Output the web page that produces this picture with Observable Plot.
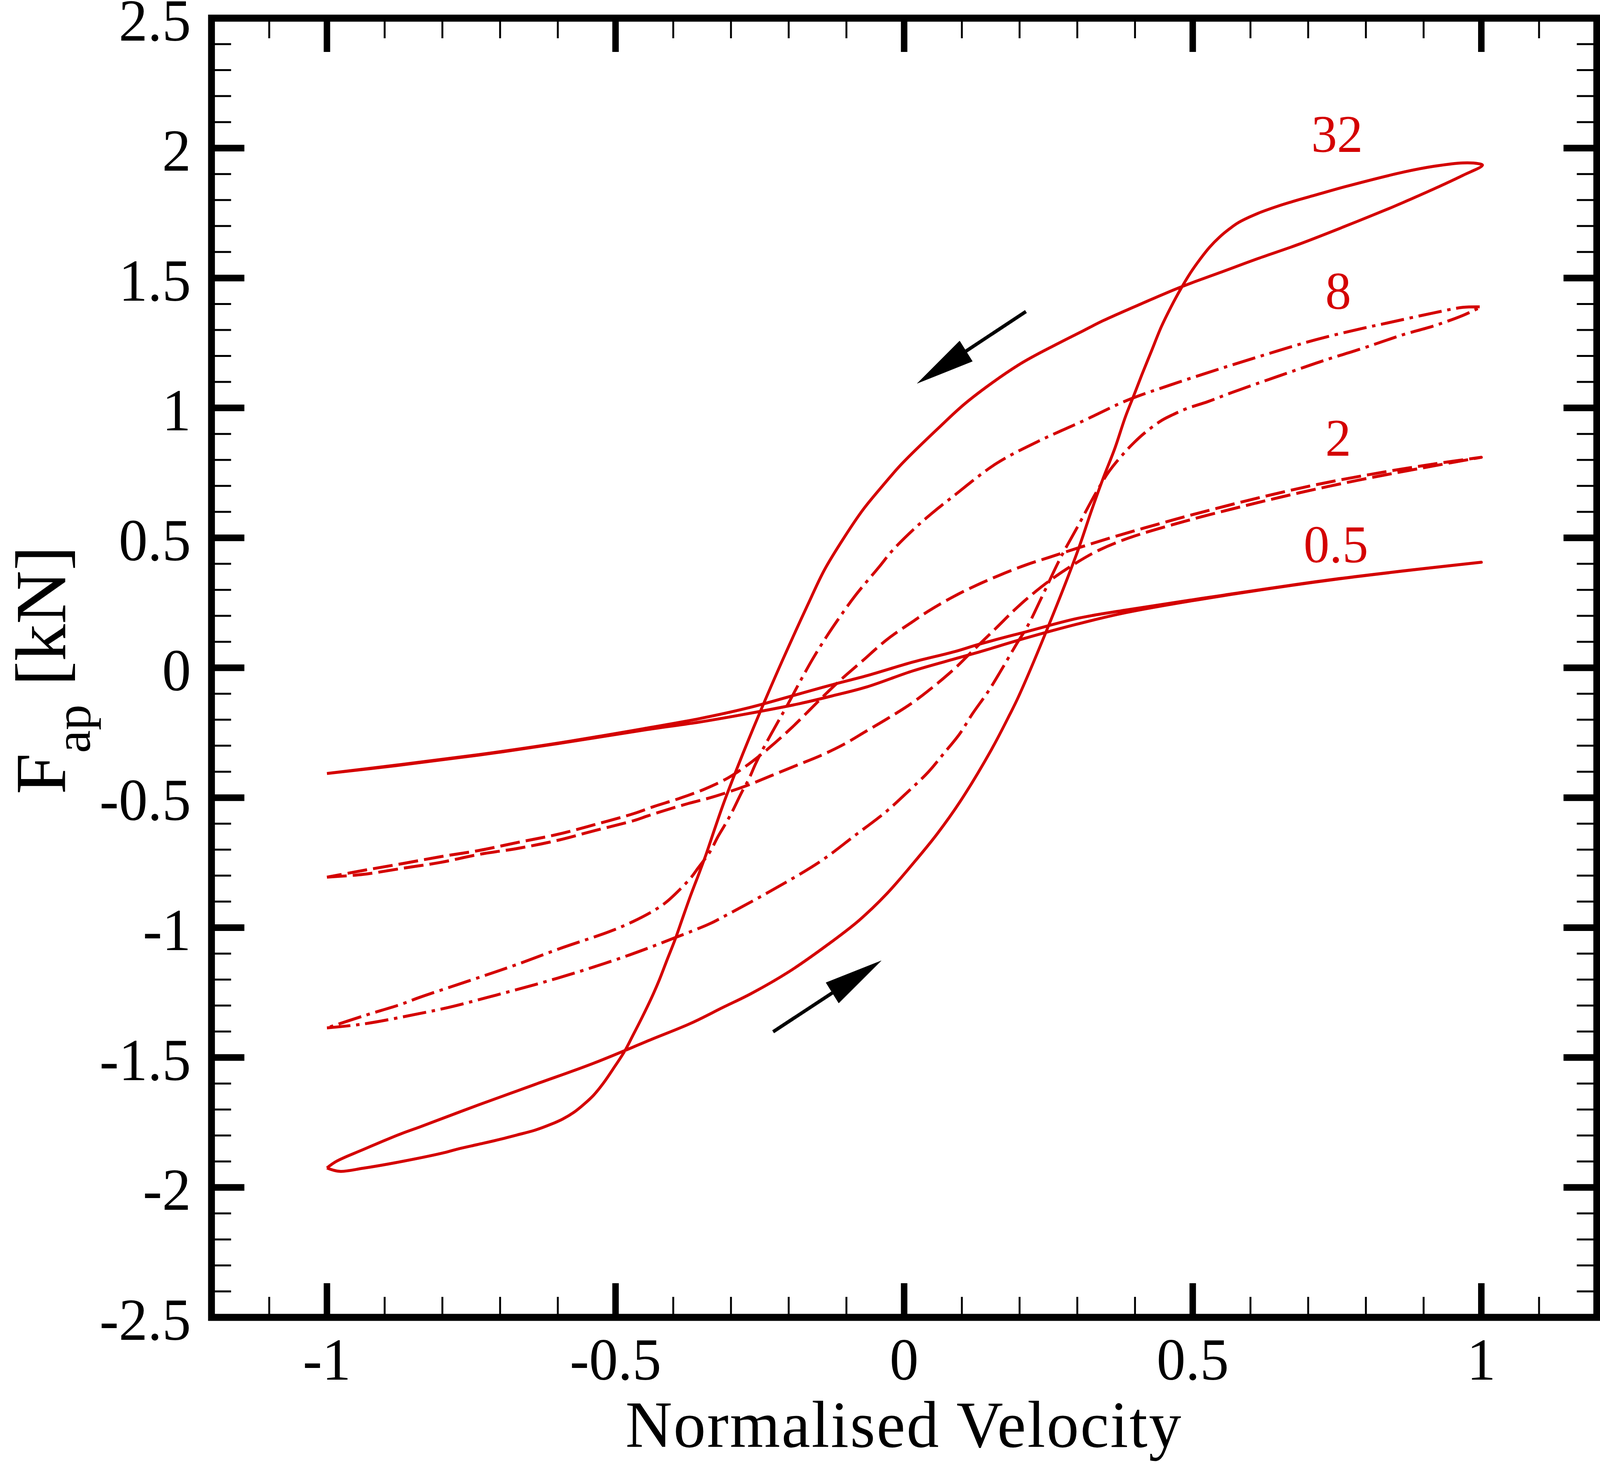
<!DOCTYPE html>
<html>
<head>
<meta charset="utf-8">
<script src="https://cdn.jsdelivr.net/npm/d3@7"></script>
<script src="https://cdn.jsdelivr.net/npm/@observablehq/plot@0.6"></script>
<style>
html, body { margin: 0; padding: 0; background: #ffffff; overflow: hidden; }
#chart { margin: 0; padding: 0; line-height: 0; }
</style>
</head>
<body>
<div id="chart"></div>
<script>
// ---------- data ----------
const seriesNames = ["0.5", "2", "8", "32"];
const seriesStyles = ["solid", "dashed", "dashdot", "solid"];

// 0.5 : increasing branch (v: -1 -> 1) and decreasing branch (v: 1 -> -1)
const f05Inc = [[-1,-0.407],[-0.87,-0.374],[-0.736,-0.336],[-0.6,-0.292],[-0.4454,-0.238],[-0.3573,-0.21],[-0.2692,-0.176],[-0.181,-0.138],[-0.1223,-0.107],[-0.0636,-0.073],[0.0151,-0.012],[0.089,0.035],[0.129,0.06],[0.212,0.115],[0.3,0.168],[0.384,0.212],[0.552,0.277],[0.753,0.342],[1,0.406]];
const f05Dec = [[1,0.406],[0.753,0.343],[0.552,0.279],[0.384,0.222],[0.3,0.19],[0.212,0.139],[0.129,0.09],[0.089,0.063],[0.0151,0.022],[-0.0636,-0.03],[-0.1223,-0.064],[-0.181,-0.1],[-0.2692,-0.154],[-0.3573,-0.197],[-0.4454,-0.232],[-0.6,-0.29],[-0.736,-0.334],[-0.87,-0.372],[-1,-0.407]];

// 2
const f2Inc = [[-1,-0.806],[-0.937,-0.795],[-0.87,-0.772],[-0.803,-0.749],[-0.736,-0.718],[-0.669,-0.695],[-0.602,-0.665],[-0.535,-0.626],[-0.468,-0.588],[-0.4454,-0.571],[-0.416,-0.55],[-0.3749,-0.523],[-0.3309,-0.497],[-0.2721,-0.453],[-0.231,-0.416],[-0.1869,-0.376],[-0.1458,-0.339],[-0.1047,-0.295],[-0.0665,-0.245],[-0.0284,-0.195],[0.0128,-0.137],[0.055,-0.065],[0.089,0.0],[0.12,0.068],[0.159,0.152],[0.19,0.22],[0.214,0.268],[0.25,0.332],[0.297,0.402],[0.337,0.452],[0.39,0.5],[0.485,0.563],[0.586,0.621],[0.686,0.674],[0.787,0.722],[0.888,0.765],[1,0.81]];
const f2Dec = [[1,0.81],[0.92,0.785],[0.82,0.749],[0.717,0.706],[0.616,0.655],[0.518,0.6],[0.445,0.556],[0.371,0.509],[0.304,0.463],[0.25,0.424],[0.2125,0.397],[0.163,0.354],[0.119,0.311],[0.079,0.266],[0.042,0.218],[0.0151,0.178],[-0.0284,0.111],[-0.0724,0.026],[-0.1107,-0.048],[-0.1401,-0.11],[-0.1635,-0.162],[-0.1959,-0.233],[-0.2311,-0.303],[-0.2663,-0.366],[-0.3044,-0.423],[-0.3456,-0.467],[-0.3896,-0.503],[-0.4336,-0.534],[-0.468,-0.561],[-0.535,-0.603],[-0.602,-0.642],[-0.669,-0.672],[-0.736,-0.703],[-0.803,-0.727],[-0.87,-0.754],[-0.937,-0.78],[-1,-0.806]];

// 8
const f8Inc = [[-1,-1.386],[-0.937,-1.371],[-0.8401,-1.331],[-0.783,-1.304],[-0.7226,-1.269],[-0.6387,-1.219],[-0.5582,-1.166],[-0.4743,-1.104],[-0.397,-1.039],[-0.3366,-0.985],[-0.3138,-0.959],[-0.232,-0.86],[-0.145,-0.745],[-0.085,-0.645],[-0.033,-0.557],[0.008,-0.474],[0.042,-0.401],[0.069,-0.329],[0.096,-0.255],[0.119,-0.175],[0.146,-0.09],[0.168,-0.01],[0.193,0.085],[0.215,0.165],[0.237,0.265],[0.27,0.419],[0.304,0.557],[0.33,0.664],[0.3548,0.755],[0.3817,0.828],[0.3985,0.867],[0.4152,0.901],[0.4455,0.951],[0.4656,0.974],[0.4891,0.997],[0.526,1.024],[0.5663,1.058],[0.63,1.108],[0.6703,1.139],[0.7307,1.185],[0.7912,1.227],[0.8375,1.262],[0.866,1.283],[0.918,1.316],[0.968,1.356],[1,1.389]];
const f8Dec = [[1,1.389],[0.968,1.387],[0.918,1.366],[0.8375,1.327],[0.7978,1.308],[0.714,1.263],[0.6301,1.208],[0.5462,1.15],[0.4622,1.089],[0.385,1.028],[0.3112,0.951],[0.231,0.87],[0.159,0.785],[0.084,0.658],[0.049,0.596],[0.02,0.54],[-0.02,0.452],[-0.043,0.389],[-0.0842,0.279],[-0.1106,0.198],[-0.1341,0.121],[-0.1576,0.037],[-0.1781,-0.044],[-0.2016,-0.141],[-0.2193,-0.211],[-0.2427,-0.305],[-0.2574,-0.37],[-0.2692,-0.429],[-0.2809,-0.477],[-0.2986,-0.557],[-0.3103,-0.604],[-0.3221,-0.648],[-0.3366,-0.709],[-0.3568,-0.77],[-0.3702,-0.81],[-0.3971,-0.872],[-0.4139,-0.905],[-0.434,-0.935],[-0.4709,-0.978],[-0.5113,-1.016],[-0.5918,-1.077],[-0.6723,-1.143],[-0.7528,-1.204],[-0.8401,-1.269],[-0.87,-1.294],[-0.937,-1.34],[-1,-1.386]];

// 32
const f32Inc = [[-1,-1.925],[-0.984,-1.9],[-0.937,-1.854],[-0.87,-1.792],[-0.8401,-1.768],[-0.7394,-1.684],[-0.6387,-1.603],[-0.538,-1.522],[-0.4374,-1.43],[-0.3702,-1.369],[-0.3138,-1.307],[-0.266,-1.255],[-0.199,-1.169],[-0.132,-1.065],[-0.078,-0.972],[-0.031,-0.872],[0.016,-0.752],[0.057,-0.64],[0.097,-0.515],[0.151,-0.316],[0.183,-0.18],[0.198,-0.112],[0.244,0.128],[0.3,0.445],[0.3246,0.605],[0.3448,0.729],[0.365,0.844],[0.3834,0.966],[0.3985,1.051],[0.4119,1.128],[0.4287,1.22],[0.4455,1.312],[0.4622,1.388],[0.479,1.457],[0.4958,1.519],[0.5126,1.572],[0.5294,1.619],[0.5462,1.657],[0.563,1.688],[0.5797,1.714],[0.6132,1.749],[0.6468,1.776],[0.6804,1.799],[0.714,1.82],[0.765,1.852],[0.866,1.908],[0.918,1.93],[0.968,1.943],[0.995,1.94]];
const f32Dec = [[1.002,1.934],[0.968,1.895],[0.918,1.843],[0.866,1.792],[0.8375,1.765],[0.765,1.7],[0.6804,1.627],[0.6132,1.575],[0.5462,1.52],[0.479,1.465],[0.41,1.4],[0.344,1.335],[0.3112,1.298],[0.265,1.246],[0.198,1.165],[0.11,1.025],[0.063,0.93],[-0.004,0.785],[-0.037,0.701],[-0.071,0.609],[-0.104,0.501],[-0.138,0.377],[-0.1664,0.245],[-0.2105,0.03],[-0.2457,-0.15],[-0.2692,-0.275],[-0.2927,-0.405],[-0.3133,-0.525],[-0.332,-0.645],[-0.3434,-0.72],[-0.3568,-0.8],[-0.3702,-0.878],[-0.3836,-0.962],[-0.397,-1.047],[-0.4105,-1.123],[-0.4239,-1.2],[-0.4374,-1.269],[-0.4541,-1.346],[-0.4709,-1.419],[-0.4843,-1.476],[-0.5045,-1.545],[-0.5212,-1.599],[-0.538,-1.645],[-0.5548,-1.68],[-0.5716,-1.71],[-0.5918,-1.737],[-0.6119,-1.757],[-0.6387,-1.779],[-0.6723,-1.799],[-0.7059,-1.818],[-0.7394,-1.835],[-0.773,-1.852],[-0.7965,-1.866],[-0.87,-1.9],[-0.937,-1.926],[-0.978,-1.938],[-1,-1.925]];

// curve labels
const labelText = ["32", "8", "2", "0.5"];
const labelX = [0.75, 0.752, 0.752, 0.748];
const labelY = [2.05, 1.447, 0.881, 0.471];

// direction arrows
const arrowTail = [[0.211, 1.371], [-0.227, -1.401]];
const arrowTip  = [[0.023, 1.095], [-0.040, -1.128]];

// ticks
const xTickLabels = [-1, -0.5, 0, 0.5, 1];
const xMinor = [-1.1,-0.9,-0.8,-0.7,-0.6,-0.4,-0.3,-0.2,-0.1,0.1,0.2,0.3,0.4,0.6,0.7,0.8,0.9,1.1];
const yTickLabels = [-2.5,-2,-1.5,-1,-0.5,0,0.5,1,1.5,2,2.5];
const yMajorMarks = [-2,-1.5,-1,-0.5,0,0.5,1,1.5,2];
const yMinor = [-2.4,-2.3,-2.2,-2.1,-1.9,-1.8,-1.7,-1.6,-1.4,-1.3,-1.2,-1.1,-0.9,-0.8,-0.7,-0.6,-0.4,-0.3,-0.2,-0.1,0.1,0.2,0.3,0.4,0.6,0.7,0.8,0.9,1.1,1.2,1.3,1.4,1.6,1.7,1.8,1.9,2.1,2.2,2.3,2.4];

// ---------- build tables ----------
const branches = [[f05Inc, f05Dec], [f2Inc, f2Dec], [f8Inc, f8Dec], [f32Inc, f32Dec]];
const rows = [];
branches.forEach(([inc, dec], i) => {
  inc.concat(dec).forEach(([x, y], k) => rows.push({series: seriesNames[i], style: seriesStyles[i], x, y, k}));
});
const labels = labelText.map((t, i) => ({text: t, x: labelX[i], y: labelY[i]}));

// ---------- layout ----------
const W = 4210, H = 3749;
const mL = 556, mR = 9, mT = 46, mB = 376;
const innerW = W - mL - mR, innerH = H - mT - mB;
const xDomain = [-1.2, 1.2], yDomain = [-2.5, 2.5];
const pxX = innerW / (xDomain[1] - xDomain[0]);
const pxY = innerH / (yDomain[1] - yDomain[0]);
const FONT = "Liberation Serif";
const RED = "#d40000";
const majorLen = 87, minorLen = 52;

// arrow geometry (head length/width in pixels)
const headLen = 152, headHalf = 31;
const shafts = [], heads = [];
arrowTail.forEach((t, i) => {
  const p = arrowTip[i];
  const dx = (p[0] - t[0]) * pxX, dy = (p[1] - t[1]) * pxY;
  const L = Math.hypot(dx, dy), ux = dx / L, uy = dy / L;
  const bx = p[0] - ux * headLen / pxX, by = p[1] - uy * headLen / pxY;
  const nx = -uy, ny = ux;
  shafts.push({x1: t[0], y1: t[1], x2: bx, y2: by});
  heads.push({id: i, x: p[0], y: p[1]});
  heads.push({id: i, x: bx + nx * headHalf / pxX, y: by + ny * headHalf / pxY});
  heads.push({id: i, x: bx - nx * headHalf / pxX, y: by - ny * headHalf / pxY});
  heads.push({id: i, x: p[0], y: p[1]});
});

const curveOpts = {x: "x", y: "y", z: "series", stroke: RED, strokeWidth: 7.5, curve: "catmull-rom", strokeLinecap: "butt", strokeLinejoin: "round"};

const plot = Plot.plot({
  width: W, height: H,
  marginLeft: mL, marginRight: mR, marginTop: mT, marginBottom: mB,
  x: {domain: xDomain},
  y: {domain: yDomain},
  style: {background: "#ffffff", fontFamily: FONT, color: "black"},
  marks: [
    // ticks (inward, on all four sides)
    Plot.tickX(xTickLabels, {x: d => d, insetTop: innerH - majorLen, strokeWidth: 17, stroke: "black"}),
    Plot.tickX(xTickLabels, {x: d => d, insetBottom: innerH - majorLen, strokeWidth: 17, stroke: "black"}),
    Plot.tickX(xMinor, {x: d => d, insetTop: innerH - minorLen, strokeWidth: 5, stroke: "black"}),
    Plot.tickX(xMinor, {x: d => d, insetBottom: innerH - minorLen, strokeWidth: 5, stroke: "black"}),
    Plot.tickY(yMajorMarks, {y: d => d, insetRight: innerW - majorLen, strokeWidth: 17, stroke: "black"}),
    Plot.tickY(yMajorMarks, {y: d => d, insetLeft: innerW - majorLen, strokeWidth: 17, stroke: "black"}),
    Plot.tickY(yMinor, {y: d => d, insetRight: innerW - minorLen, strokeWidth: 5, stroke: "black"}),
    Plot.tickY(yMinor, {y: d => d, insetLeft: innerW - minorLen, strokeWidth: 5, stroke: "black"}),
    // tick labels
    Plot.axisX(xTickLabels, {tickSize: 0, tickPadding: 52, fontSize: 152, fontFamily: FONT, tickFormat: d => String(d), label: null, fill: "black"}),
    Plot.axisY(yTickLabels, {tickSize: 0, tickPadding: 54, dy: 9, fontSize: 152, fontFamily: FONT, tickFormat: d => String(d), label: null, fill: "black"}),
    // curves
    Plot.line(rows.filter(d => d.style === "solid"), curveOpts),
    Plot.line(rows.filter(d => d.style === "dashed"), {...curveOpts, strokeDasharray: "52,16"}),
    Plot.line(rows.filter(d => d.style === "dashdot"), {...curveOpts, strokeDasharray: "62,15,9,15"}),
    // curve labels
    Plot.text(labels, {x: "x", y: "y", text: "text", fill: RED, fontSize: 136, fontFamily: FONT}),
    // arrows
    Plot.link(shafts, {x1: "x1", y1: "y1", x2: "x2", y2: "y2", stroke: "black", strokeWidth: 9}),
    Plot.line(heads, {x: "x", y: "y", z: "id", fill: "black", stroke: "black", strokeWidth: 1, strokeLinejoin: "miter"}),
    // frame
    Plot.frame({stroke: "black", strokeWidth: 18})
  ]
});

// make the drawing fill the browser viewport exactly
plot.setAttribute("viewBox", `0 0 ${W} ${H}`);
plot.setAttribute("preserveAspectRatio", "none");
plot.style.display = "block";
plot.style.width = "100vw";
plot.style.height = "100vh";
plot.style.maxWidth = "none";

document.getElementById("chart").appendChild(plot);

// axis titles
const svg = d3.select(plot);
svg.append("text")
  .attr("x", mL + innerW / 2).attr("y", 3705)
  .attr("text-anchor", "middle")
  .attr("font-family", FONT).attr("font-size", 170).attr("fill", "black")
  .attr("letter-spacing", 3.5)
  .text("Normalised Velocity");
const yt = svg.append("text")
  .attr("transform", "translate(172,1716) rotate(-90)")
  .attr("text-anchor", "middle")
  .attr("font-family", FONT).attr("font-size", 190).attr("fill", "black")
  .style("white-space", "pre");
yt.append("tspan").text("F");
yt.append("tspan").attr("font-size", 132).attr("dy", 64).text("ap");
yt.append("tspan").attr("dy", -64).text(" [kN]");
</script>
</body>
</html>
